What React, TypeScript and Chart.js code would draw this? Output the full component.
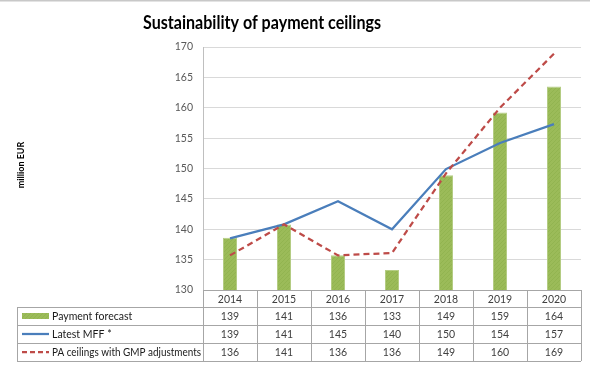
import React, { useEffect, useRef } from "react";
import { Chart, registerables } from "chart.js";

Chart.register(...registerables);

const years = ["2014", "2015", "2016", "2017", "2018", "2019", "2020"];
const paymentForecast = [138.6, 140.8, 135.7, 133.3, 148.9, 159.2, 163.5];
const latestMFF = [138.5, 140.8, 144.6, 140.0, 149.9, 154.2, 157.3];
const paCeilings = [135.7, 140.8, 135.7, 136.1, 149.2, 160.0, 168.9];
const tablePayment = ["139", "141", "136", "133", "149", "159", "164"];
const tableMFF = ["139", "141", "145", "140", "150", "154", "157"];
const tablePA = ["136", "141", "136", "136", "149", "160", "169"];
const seriesLabels = ["Payment forecast", "Latest MFF *", "PA ceilings with GMP adjustments"];
const chartTitle = "Sustainability of payment ceilings";
const axisTitle = "million EUR";
const yMin = 130;
const yMax = 170;
const yStep = 5;

const GREEN = "#9BBB59";
const BLUE = "#4A7EBB";
const RED = "#BE4B48";
const FONT = "Lato, 'Open Sans', sans-serif";

function makePattern(): CanvasPattern | string {
  const c = document.createElement("canvas");
  c.width = 4;
  c.height = 4;
  const g = c.getContext("2d");
  if (!g) return GREEN;
  g.fillStyle = GREEN;
  g.fillRect(0, 0, 4, 4);
  g.fillStyle = "#92B450";
  g.fillRect(0, 3, 1, 1);
  g.fillRect(1, 2, 1, 1);
  g.fillRect(2, 1, 1, 1);
  g.fillRect(3, 0, 1, 1);
  const p = g.createPattern(c, "repeat");
  return p || GREEN;
}

const decorPlugin = {
  id: "decor",
  afterDraw(chart: any) {
    const ctx: CanvasRenderingContext2D = chart.ctx;
    const area = chart.chartArea;
    const n = years.length;
    const step = (area.right - area.left) / n;
    ctx.save();

    // top frame line
    ctx.fillStyle = "#C8C8C8";
    ctx.fillRect(0, 0, chart.width, 1.5);

    // title
    ctx.fillStyle = "#000000";
    ctx.font = `bold 19.5px ${FONT}`;
    ctx.textAlign = "center";
    ctx.textBaseline = "alphabetic";
    ctx.fillText(chartTitle, 262, 28.5, 238);

    // axis title
    ctx.save();
    ctx.translate(21, 165);
    ctx.rotate(-Math.PI / 2);
    ctx.font = `bold 9px ${FONT}`;
    ctx.textBaseline = "middle";
    ctx.fillText(axisTitle, 0, 0);
    ctx.restore();

    // data table
    const tableLeft = 17;
    const headerTop = area.bottom;
    const headerBottom = headerTop + 17;
    const rowH = 18;
    const rows = [tablePayment, tableMFF, tablePA];
    const tableBottom = headerBottom + rowH * rows.length;

    ctx.strokeStyle = "#A6A6A6";
    ctx.lineWidth = 1;
    ctx.beginPath();
    ctx.moveTo(area.left, headerTop + 0.5);
    ctx.lineTo(area.right, headerTop + 0.5);
    for (let r = 0; r <= rows.length; r++) {
      const y = Math.round(headerBottom + r * rowH) + 0.5;
      ctx.moveTo(tableLeft, y);
      ctx.lineTo(area.right, y);
    }
    for (let i = 0; i <= n; i++) {
      const x = Math.round(area.left + i * step) + 0.5;
      ctx.moveTo(x, headerTop);
      ctx.lineTo(x, tableBottom);
    }
    ctx.moveTo(tableLeft + 0.5, headerBottom);
    ctx.lineTo(tableLeft + 0.5, tableBottom);
    ctx.stroke();

    // header + values
    ctx.font = `10.5px ${FONT}`;
    ctx.fillStyle = "#404040";
    ctx.textAlign = "center";
    ctx.textBaseline = "middle";
    const xs = chart.scales.x;
    for (let i = 0; i < n; i++) {
      const cx = xs.getPixelForValue(i);
      ctx.fillText(years[i], cx, (headerTop + headerBottom) / 2 + 1);
      rows.forEach((row, r) => {
        ctx.fillText(row[i], cx, headerBottom + r * rowH + rowH / 2 + 1);
      });
    }

    // legend keys
    rows.forEach((_, r) => {
      const cy = headerBottom + r * rowH + rowH / 2;
      if (r === 0) {
        ctx.fillStyle = chart.data.datasets[0].backgroundColor;
        ctx.fillRect(22, cy - 3, 27, 6);
      } else {
        ctx.beginPath();
        ctx.lineWidth = 2.25;
        ctx.strokeStyle = r === 1 ? BLUE : RED;
        ctx.setLineDash(r === 1 ? [] : [5, 3]);
        ctx.moveTo(22, cy);
        ctx.lineTo(49, cy);
        ctx.stroke();
        ctx.setLineDash([]);
      }
      ctx.fillStyle = "#1A1A1A";
      ctx.textAlign = "left";
      ctx.font = `10.5px ${FONT}`;
      ctx.fillText(seriesLabels[r], 52, cy + 1, 149);
    });

    ctx.restore();
  },
};

export default function App() {
  const ref = useRef<HTMLCanvasElement | null>(null);

  useEffect(() => {
    if (!ref.current) return;
    const barFill = makePattern();
    const chart = new Chart(ref.current, {
      type: "bar",
      data: {
        labels: years,
        datasets: [
          {
            type: "bar",
            label: seriesLabels[0],
            data: paymentForecast,
            backgroundColor: barFill as any,
            borderColor: "#B5CD85",
            borderWidth: 1,
            categoryPercentage: 1,
            barPercentage: 0.26,
            order: 3,
          },
          {
            type: "line",
            label: seriesLabels[1],
            data: latestMFF,
            borderColor: BLUE,
            borderWidth: 2.25,
            pointRadius: 0,
            tension: 0,
            fill: false,
            order: 2,
          },
          {
            type: "line",
            label: seriesLabels[2],
            data: paCeilings,
            borderColor: RED,
            borderWidth: 2.25,
            borderDash: [6, 4],
            pointRadius: 0,
            tension: 0,
            fill: false,
            order: 1,
          },
        ] as any,
      },
      options: {
        responsive: false,
        animation: false,
        layout: { padding: { left: 0, top: 47, right: 9, bottom: 75 } },
        plugins: {
          legend: { display: false },
          title: { display: false },
          tooltip: { enabled: false },
        },
        scales: {
          x: {
            display: false,
            offset: true,
          },
          y: {
            min: yMin,
            max: yMax,
            afterFit: (scale: any) => {
              scale.width = 203;
            },
            ticks: {
              stepSize: yStep,
              padding: 10,
              color: "#595959",
              font: { family: "Lato, 'Open Sans', sans-serif", size: 10.5 },
            },
            grid: {
              color: "#D9D9D9",
              drawTicks: false,
            },
            border: { color: "#BFBFBF" },
          },
        },
      },
      plugins: [decorPlugin],
    });
    return () => chart.destroy();
  }, []);

  return (
    <div style={{ position: "absolute", left: 0, top: 0, width: 590, height: 365, background: "#fff" }}>
      <canvas ref={ref} width={590} height={365} style={{ display: "block" }} />
    </div>
  );
}
